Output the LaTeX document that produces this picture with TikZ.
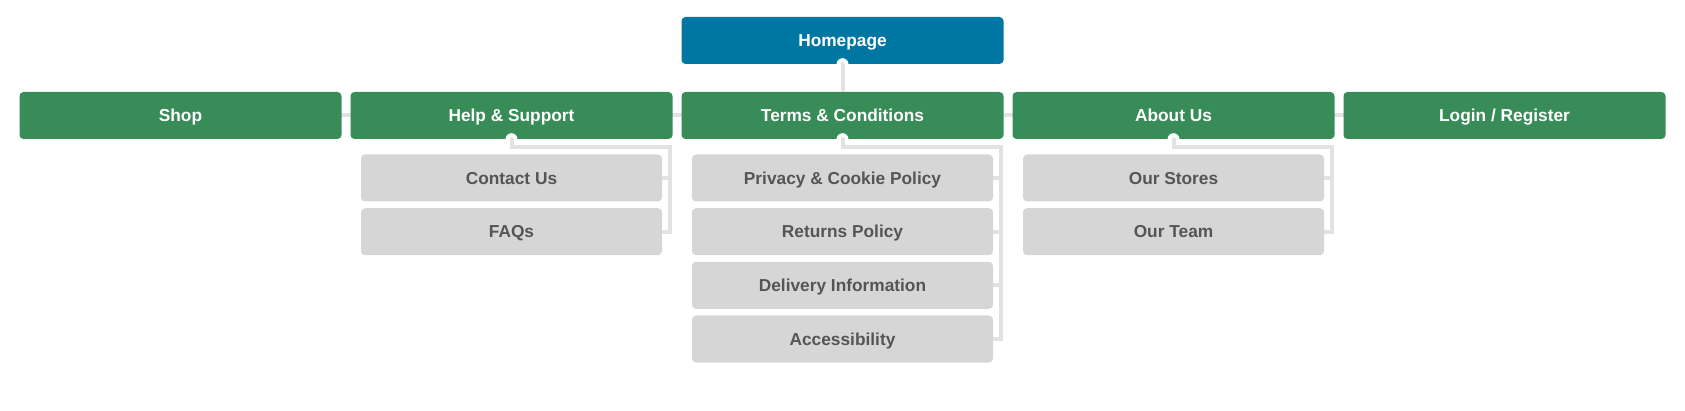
\documentclass[tikz,border=0pt]{standalone}
\usepackage{fontspec}
\setmainfont{Liberation Sans}
\definecolor{homeblue}{HTML}{0077A3}
\definecolor{topgreen}{HTML}{378C57}
\definecolor{childgray}{HTML}{D6D6D6}
\definecolor{childtext}{HTML}{555555}
\definecolor{linegray}{HTML}{E2E2E2}
\tikzset{
  basebox/.style={rectangle, rounded corners=4pt, inner sep=0pt, text height=12.4pt, text depth=0pt, font=\fontsize{17.3}{20}\selectfont\bfseries},
  homebox/.style={basebox, fill=homeblue, text=white, minimum width=322pt, minimum height=47pt},
  topbox/.style={basebox, fill=topgreen, text=white, minimum width=322pt, minimum height=47pt},
  childbox/.style={basebox, fill=childgray, text=childtext, minimum width=301pt, minimum height=47pt},
  conn/.style={draw=linegray, line width=4pt},
  knob/.style={fill=white},
}
\begin{document}
\begin{tikzpicture}[x=1pt,y=-1pt]
\useasboundingbox (0,0) rectangle (1685,411);
% top level coordinates for the line behind
\coordinate (shopc) at (180.5,115.5);
\coordinate (loginc) at (1504.5,115.5);
\draw[conn] (shopc) -- (loginc);
\node[homebox] (home) at (842.5,40.5) {Homepage};
\node[topbox] (shop) at (180.5,115.5) {Shop};
\node[topbox] (help) at (511.5,115.5) {Help \& Support};
\node[topbox] (terms) at (842.5,115.5) {Terms \& Conditions};
\node[topbox] (about) at (1173.5,115.5) {About Us};
\node[topbox] (login) at (1504.5,115.5) {Login / Register};
\draw[conn] (home.south) -- (terms.north);
% children
\node[childbox] (contact) at (511.5,178) {Contact Us};
\node[childbox] (faq) at (511.5,231.7) {FAQs};
\node[childbox] (privacy) at (842.5,178) {Privacy \& Cookie Policy};
\node[childbox] (returns) at (842.5,231.7) {Returns Policy};
\node[childbox] (delivery) at (842.5,285.3) {Delivery Information};
\node[childbox] (access) at (842.5,339) {Accessibility};
\node[childbox] (stores) at (1173.5,178) {Our Stores};
\node[childbox] (team) at (1173.5,231.7) {Our Team};
% vertical rails
\coordinate (hv) at ([xshift=-2.5pt]help.east);
\coordinate (tv) at ([xshift=-2.5pt]terms.east);
\coordinate (av) at ([xshift=-2.5pt]about.east);
% connectors
\draw[conn] (help.south) -- ++(0,8) -| (hv |- faq.east) -- (faq.east);
\draw[conn] (contact.east) -- (contact.east -| hv);
\draw[conn] (terms.south) -- ++(0,8) -| (tv |- access.east) -- (access.east);
\draw[conn] (privacy.east) -- (privacy.east -| tv);
\draw[conn] (returns.east) -- (returns.east -| tv);
\draw[conn] (delivery.east) -- (delivery.east -| tv);
\draw[conn] (about.south) -- ++(0,8) -| (av |- team.east) -- (team.east);
\draw[conn] (stores.east) -- (stores.east -| av);
% knobs
\foreach \n in {home,help,terms,about}{
  \fill[knob] (\n.south) circle (6pt);
  \draw[conn, line cap=round] (\n.south) -- ++(0,6);
}
\end{tikzpicture}
\end{document}
